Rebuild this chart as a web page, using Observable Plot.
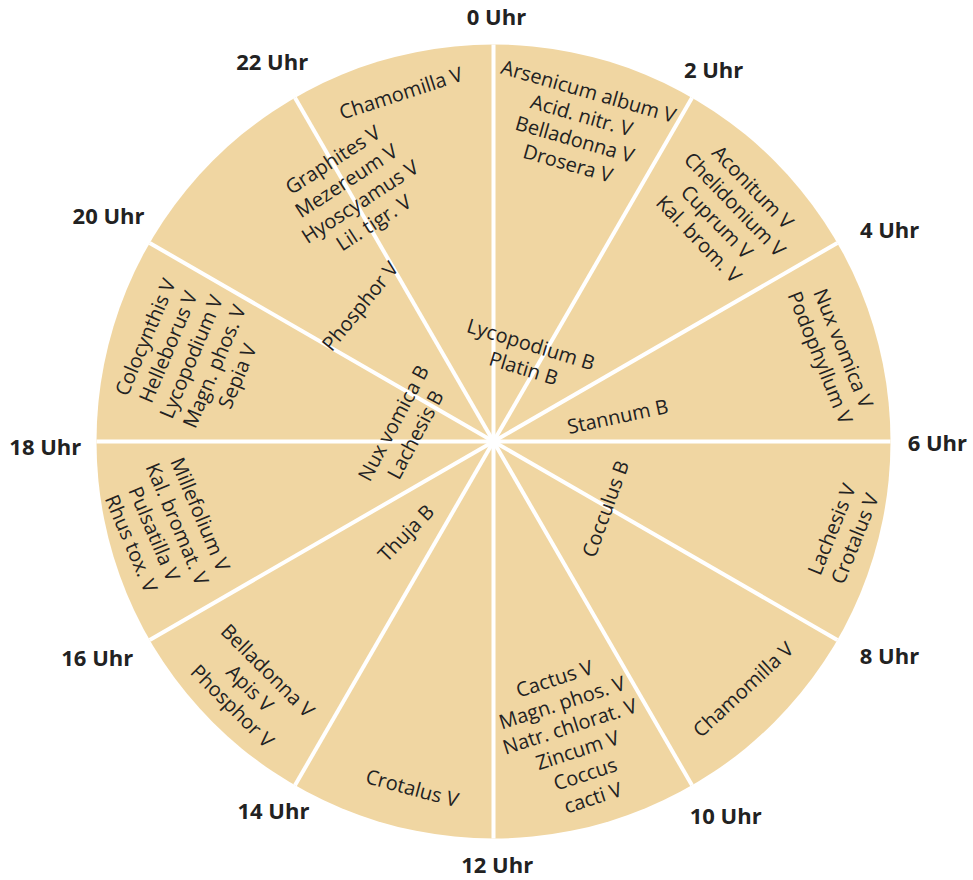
<!DOCTYPE html>
<html>
<head>
<meta charset="utf-8">
<script src="https://cdn.jsdelivr.net/npm/d3@7"></script>
<script src="https://cdn.jsdelivr.net/npm/@observablehq/plot@0.6"></script>
<style>
  html, body { margin: 0; padding: 0; background: #ffffff; }
  #chart svg { display: block; }
</style>
</head>
<body>
<div id="chart"></div>
<script>
// ---- data ----
const hours = [0, 2, 4, 6, 8, 10, 12, 14, 16, 18, 20, 22];
const hourLabels = ["0 Uhr", "2 Uhr", "4 Uhr", "6 Uhr", "8 Uhr", "10 Uhr",
  "12 Uhr", "14 Uhr", "16 Uhr", "18 Uhr", "20 Uhr", "22 Uhr"];
// clock position (degrees) and radial distance (disc radius = 1) of each hour label
const hourLabelAngle  = [0.4, 30.7, 62.0, 90.3, 118.6, 148.3, 179.5, 210.7, 241.2, 269.2, 300.2, 329.7];
const hourLabelRadius = [1.068, 1.086, 1.130, 1.118, 1.136, 1.113, 1.068, 1.086, 1.139, 1.129, 1.122, 1.105];

// remedy groups (lines of each text block)
const remedyTexts = [
  ["Arsenicum album V", "Acid. nitr. V", "Belladonna V", "Drosera V"],
  ["Aconitum V", "Chelidonium V", "Cuprum V", "Kal. brom. V"],
  ["Nux vomica V", "Podophyllum V"],
  ["Lachesis V", "Crotalus V"],
  ["Chamomilla V"],
  ["Cactus V", "Magn. phos. V", "Natr. chlorat. V", "Zincum V", "Coccus", "cacti V"],
  ["Crotalus V"],
  ["Belladonna V", "Apis V", "Phosphor V"],
  ["Millefolium V", "Kal. bromat. V", "Pulsatilla V", "Rhus tox. V"],
  ["Colocynthis V", "Helleborus V", "Lycopodium V", "Magn. phos. V", "Sepia V"],
  ["Graphites V", "Mezereum V", "Hyoscyamus V", "Lil. tigr. V"],
  ["Chamomilla V"],
  ["Phosphor V"],
  ["Lycopodium B", "Platin B"],
  ["Stannum B"],
  ["Cocculus B"],
  ["Thuja B"],
  ["Nux vomica B", "Lachesis B"]
];
// clock position of each block (degrees clockwise from 0 Uhr) and radial distance (0..1)
const remedyAngle  = [15.1, 45.5, 75.3, 104.8, 134.8, 164.9, 193.2, 224.6, 255.1, 285.7, 330.7, 345.1, 315.4, 21.6, 78.2, 121.1, 224.1, 278.2];
const remedyRadius = [0.822, 0.823, 0.883, 0.909, 0.884, 0.772, 0.895, 0.871, 0.852, 0.793, 0.725, 0.910, 0.481, 0.233, 0.319, 0.327, 0.319, 0.229];
const remedyRotate = [16, 46, 68, -68, -43, -18, 15, 45, 67, -67, -33, -18, -51, 17, -12, -70, -46, -62];

// ---- layout ----
const W = 973, H = 880;
const CX = 493, CY = 441, R = 397;
const FILL = "#f0d6a2";
const INK = "#222222";
const rad = d => d * Math.PI / 180;

const remedies = remedyTexts.map((lines, i) => ({
  text: lines.join("\n"),
  x: remedyRadius[i] * Math.sin(rad(remedyAngle[i])),
  y: remedyRadius[i] * Math.cos(rad(remedyAngle[i])),
  rotate: remedyRotate[i]
}));

const hourData = hours.map((h, i) => ({
  label: hourLabels[i],
  x: hourLabelRadius[i] * Math.sin(rad(hourLabelAngle[i])),
  y: hourLabelRadius[i] * Math.cos(rad(hourLabelAngle[i]))
}));

const spokes = hours.map(h => ({ x2: Math.sin(rad(h * 15)), y2: Math.cos(rad(h * 15)) }));

const chart = Plot.plot({
  width: W,
  height: H,
  margin: 0,
  x: { domain: [-CX / R, (W - CX) / R], axis: null },
  y: { domain: [-(H - CY) / R, CY / R], axis: null },
  style: { fontFamily: "'Open Sans', sans-serif", background: "#ffffff" },
  marks: [
    Plot.dot([{ x: 0, y: 0 }], { x: "x", y: "y", r: R, fill: FILL, stroke: "none" }),
    Plot.link(spokes, { x1: () => 0, y1: () => 0, x2: "x2", y2: "y2", stroke: "#ffffff", strokeWidth: 4 }),
    Plot.text(remedies, {
      x: "x", y: "y", text: "text", rotate: "rotate",
      fontSize: 20, lineHeight: 1.25, fill: INK,
      textAnchor: "middle", lineAnchor: "middle"
    }),
    Plot.text(hourData, {
      x: "x", y: "y", text: "label",
      fontSize: 22, fontWeight: "bold", fill: INK,
      textAnchor: "middle", lineAnchor: "middle"
    })
  ]
});
document.getElementById("chart").appendChild(chart);
</script>
</body>
</html>
